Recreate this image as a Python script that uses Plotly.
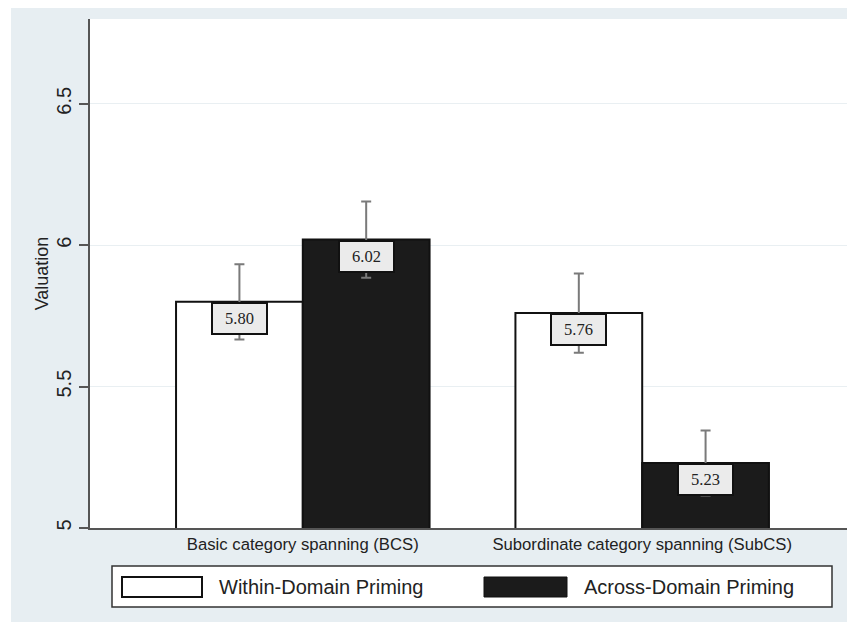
import plotly.graph_objects as go

# ---- data ----
categories = ["Basic category spanning (BCS)", "Subordinate category spanning (SubCS)"]
series_names = ["Within-Domain Priming", "Across-Domain Priming"]
within_vals = [5.80, 5.76]
across_vals = [6.02, 5.23]
within_se = [0.133, 0.14]
across_se = [0.135, 0.115]
y_ticks = [5, 5.5, 6, 6.5]
y_tick_labels = ["5", "5.5", "6", "6.5"]

# ---- layout constants (page has an 8px body margin) ----
PAGE_OFF = 8
W, H = 855 - PAGE_OFF, 622 - PAGE_OFF
ML, MR, MT, MB = 90 - PAGE_OFF, 0, 19 - PAGE_OFF, 94
PW, PH = W - ML - MR, H - MT - MB
BARGAP = 0.253
OUTER_BG = "#e7eef2"
BLACK_FILL = "#1b1b1b"


def px_x(px):
    return (px - PAGE_OFF - ML) / PW


def px_y(py):
    return (H - MB - (py - PAGE_OFF)) / PH


fig = go.Figure()
fig.add_trace(go.Bar(
    x=categories, y=within_vals, name=series_names[0],
    marker=dict(color="white", line=dict(color="#111111", width=2)),
    error_y=dict(type="data", array=within_se, visible=True,
                 color="#7a7a7a", thickness=2, width=5),
    showlegend=False,
))
fig.add_trace(go.Bar(
    x=categories, y=across_vals, name=series_names[1],
    marker=dict(color=BLACK_FILL, line=dict(color="#111111", width=2)),
    error_y=dict(type="data", array=across_se, visible=True,
                 color="#7a7a7a", thickness=2, width=5),
    showlegend=False,
))

# value labels in boxes just below bar tops
offset = (1 - BARGAP) / 4
annotations = []
for series, sign in ((within_vals, -1), (across_vals, 1)):
    for i, v in enumerate(series):
        annotations.append(dict(
            x=i + sign * offset, y=v, xref="x", yref="y",
            text=f"{v:.2f}", showarrow=False, yanchor="top", xanchor="center",
            font=dict(family="Liberation Serif, DejaVu Serif, serif", size=16.5, color="#222222"),
            bgcolor="#ebebeb", bordercolor="#111111", borderwidth=2,
            borderpad=1, width=51, height=27,
        ))

# custom legend text
annotations.append(dict(x=px_x(217), y=px_y(587), xref="paper", yref="paper",
                        text=series_names[0], showarrow=False, xanchor="left", yanchor="middle",
                        font=dict(family="Liberation Sans, Arial, sans-serif", size=20, color="#222222")))
annotations.append(dict(x=px_x(582), y=px_y(587), xref="paper", yref="paper",
                        text=series_names[1], showarrow=False, xanchor="left", yanchor="middle",
                        font=dict(family="Liberation Sans, Arial, sans-serif", size=20, color="#222222")))

shapes = [
    # white strips outside the grey frame (top/left)
    dict(type="rect", xref="paper", yref="paper", x0=px_x(0), x1=px_x(11), y0=px_y(640), y1=px_y(0),
         fillcolor="white", line=dict(width=0), layer="below"),
    dict(type="rect", xref="paper", yref="paper", x0=px_x(0), x1=px_x(870), y0=px_y(6), y1=px_y(0),
         fillcolor="white", line=dict(width=0), layer="below"),
    # legend box
    dict(type="rect", xref="paper", yref="paper", x0=px_x(112), x1=px_x(832), y0=px_y(607), y1=px_y(566),
         fillcolor="white", line=dict(color="#333333", width=1.5)),
    dict(type="rect", xref="paper", yref="paper", x0=px_x(122), x1=px_x(202), y0=px_y(597), y1=px_y(577),
         fillcolor="white", line=dict(color="#111111", width=2)),
    dict(type="rect", xref="paper", yref="paper", x0=px_x(484), x1=px_x(567), y0=px_y(597), y1=px_y(577),
         fillcolor=BLACK_FILL, line=dict(color="#111111", width=1)),
]

fig.update_layout(
    width=W, height=H,
    margin=dict(l=ML, r=MR, t=MT, b=MB, pad=0),
    paper_bgcolor=OUTER_BG, plot_bgcolor="white",
    barmode="group", bargap=BARGAP, bargroupgap=0,
    annotations=annotations, shapes=shapes,
    font=dict(family="Liberation Sans, Arial, sans-serif", color="#222222"),
)
# plot spans screen x 90..855: category 0 center at 302.7, 339.3 px per category
fig.update_xaxes(
    type="category", range=[-0.627, 1.627],
    showline=True, linecolor="#555555", linewidth=2,
    ticks="", showgrid=False,
    tickfont=dict(size=16.7, color="#222222"),
)
fig.update_yaxes(
    range=[5, 6.8], tickvals=y_ticks, ticktext=y_tick_labels, tickangle=-90,
    showline=True, linecolor="#555555", linewidth=2,
    ticks="outside", ticklen=9, tickwidth=2, tickcolor="#555555",
    ticklabeloverflow="allow",
    showgrid=True, gridcolor="#e9eff2", gridwidth=1, zeroline=False,
    tickfont=dict(size=20, color="#222222"),
    title=dict(text="Valuation", font=dict(size=18, color="#222222"), standoff=0),
)

fig.write_html("out.html")
